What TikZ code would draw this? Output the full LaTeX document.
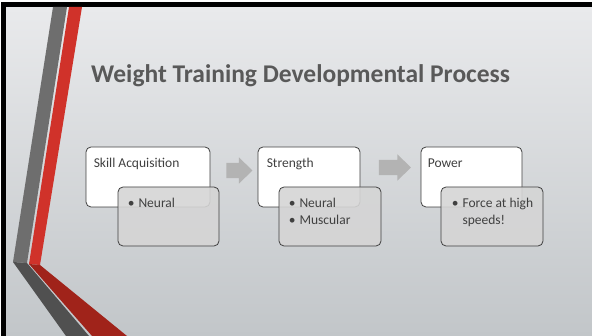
\documentclass[tikz,border=0pt]{standalone}
\usepackage{fontspec}
\setmainfont{Carlito}
\usetikzlibrary{shapes.arrows}

\definecolor{slidetop}{HTML}{E9EAEC}
\definecolor{slidebot}{HTML}{C2C6C9}
\definecolor{inkgray}{HTML}{404040}
\definecolor{titlegray}{HTML}{595959}
\definecolor{stripegray}{HTML}{6E6E6E}
\definecolor{stripedark}{HTML}{505050}
\definecolor{stripered}{HTML}{D0322A}
\definecolor{stripedeep}{HTML}{A0231A}
\definecolor{subfill}{HTML}{D5D5D5}
\definecolor{arrowgray}{HTML}{B3B3B3}

\tikzset{
	stagebox/.style={draw=inkgray, line width=0.8pt, rounded corners=5pt, fill=white,
		minimum width=#1, minimum height=60pt, inner sep=0pt},
	subbox/.style={draw=inkgray, line width=0.8pt, rounded corners=5pt, fill=subfill, fill opacity=0.9,
		minimum width=#1, minimum height=59pt, inner sep=0pt},
	head/.style={anchor=base west, inner sep=0pt, text=inkgray, font=\fontsize{13.5}{17}\selectfont},
	items/.style={anchor=base west, inner sep=0pt, text=inkgray, font=\fontsize{13.5}{17}\selectfont},
	stagearrow/.style={single arrow, fill=arrowgray, draw=none, minimum height=#1,
		inner xsep=0pt, inner ysep=7.5pt, single arrow head extend=5.5pt, single arrow tip angle=88}
}

\begin{document}
\begin{tikzpicture}[x=1pt, y=-1pt]
		\useasboundingbox (0,0) rectangle (592,336);
		% frame and slide
		\fill[white] (0,0) rectangle (592,336);
		\shade[top color=slidetop, bottom color=slidebot] (6,7) rectangle (592,336);
		\fill[black] (1,2) rectangle (592,7);
		\fill[black] (1,2) rectangle (6,336);
		
		% stripes on the left edge
		\fill[stripegray] (53,7) -- (67,7) -- (27,263) -- (13,262) -- cycle;
		\fill[stripedark] (13,262) -- (27,263) -- (89,336) -- (66,336) -- cycle;
		\fill[stripered] (69,7) -- (82,7) -- (40,265) -- (29,264) -- cycle;
		\fill[stripedeep] (29,264) -- (40,265) -- (127,336) -- (92,336) -- cycle;
		
		\node (title) [anchor=base west, inner sep=0pt, text=titlegray, font=\fontsize{25.5}{30}\selectfont\bfseries]
			at (91,83) {Weight Training Developmental Process};
		
		% stages
		\node (SA) [stagebox=124pt] at (148,177) {};
		\node (SB) [subbox=101pt] at (168.5,216.5) {};
		\node (TA) [stagebox=102pt] at (309,177) {};
		\node (TB) [subbox=102pt] at (330,216.5) {};
		\node (PA) [stagebox=101pt] at (471.5,177) {};
		\node (PB) [subbox=102pt] at (492,216.5) {};
		
		\node (SAtext) [head] at ([shift={(8,21)}]SA.north west) {Skill Acquisition};
		\node (TAtext) [head] at ([shift={(9,21)}]TA.north west) {Strength};
		\node (PAtext) [head] at ([shift={(7,21)}]PA.north west) {Power};
		
		\node (SBtext) [items] at ([shift={(10,21)}]SB.north west)
			{\begin{tabular}[t]{@{}l@{\hspace{4pt}}l@{}}\textbullet & Neural\end{tabular}};
		\node (TBtext) [items] at ([shift={(10,21)}]TB.north west)
			{\begin{tabular}[t]{@{}l@{\hspace{4pt}}l@{}}\textbullet & Neural\\ \textbullet & Muscular\end{tabular}};
		\node (PBtext) [items] at ([shift={(11,21)}]PB.north west)
			{\begin{tabular}[t]{@{}l@{\hspace{4pt}}l@{}}\textbullet & Force at high\\ & speeds!\end{tabular}};
		
		% arrows between stages
		\node (A1) [stagearrow=26pt] at (235.5,170.5) {};
		\node (A2) [stagearrow=32pt] at (391,167.5) {};
\end{tikzpicture}
\end{document}
